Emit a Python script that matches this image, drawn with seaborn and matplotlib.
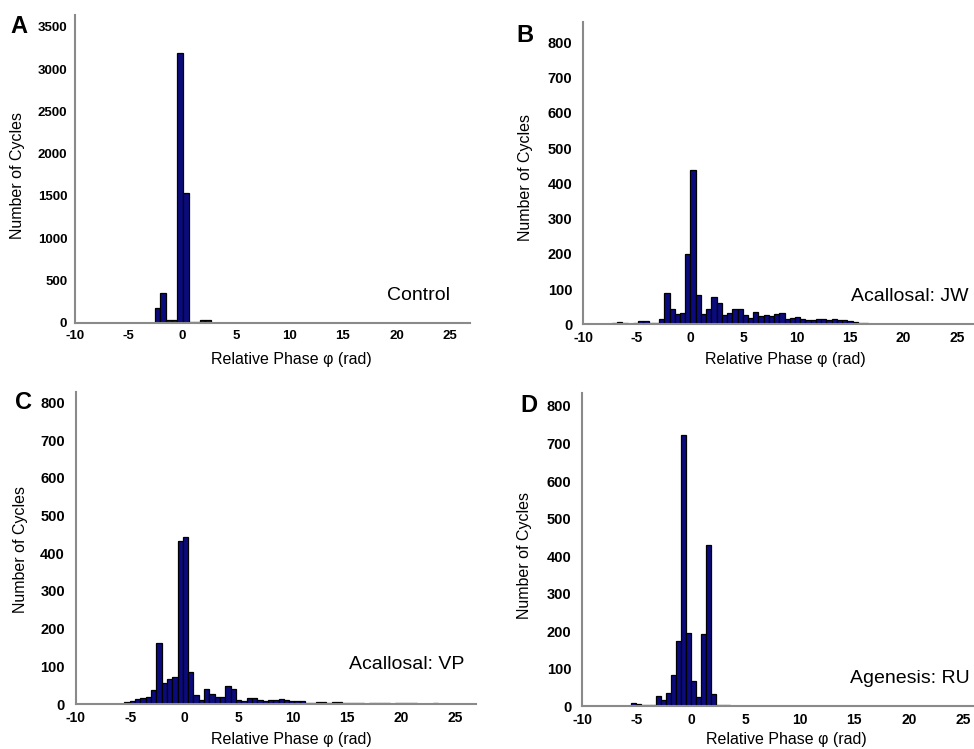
import numpy as np
import pandas as pd
import matplotlib
matplotlib.use('Agg')
import matplotlib.pyplot as plt
import seaborn as sns

# ---------------------------------------------
# Histogram counts
# (first bin edge, bin width, counts per bin)
# ---------------------------------------------
control_start, control_width = -2.55, 0.525
control_counts = [177, 354, 30, 30, 3185, 1534, 10, 10, 30, 30]

jw_start, jw_width = -7.81, 0.49
jw_counts = [2, 5, 6, 3, 0, 3, 8, 9, 5, 4,
             14, 88, 43, 28, 32, 201, 439, 82, 30, 43,
             78, 60, 26, 31, 44, 44, 26, 19, 34, 25,
             27, 24, 29, 32, 16, 17, 21, 15, 12, 11,
             15, 15, 12, 16, 13, 11, 9, 7, 4, 3]

vp_start, vp_width = -5.54, 0.49
vp_counts = [5, 8, 14, 17, 18, 36, 163, 55, 66, 72,
             432, 443, 84, 24, 12, 40, 26, 18, 18, 48,
             41, 12, 7, 17, 16, 10, 9, 10, 11, 13,
             10, 9, 8, 7, 4, 4, 5, 6, 4, 5,
             5, 4, 2, 3, 3, 0, 3, 3, 3, 2,
             0, 3, 3, 2, 3, 0, 0, 0, 3]

ru_start, ru_width = -5.5, 0.455
ru_counts = [9, 5, 4, 3, 4, 28, 18, 35, 83, 174,
             722, 195, 67, 25, 193, 429, 32, 4, 3, 3]

panels = [
    ('A', 'Control', control_start, control_width, control_counts, 3500, 500),
    ('B', 'Acallosal: JW', jw_start, jw_width, jw_counts, 800, 100),
    ('C', 'Acallosal: VP', vp_start, vp_width, vp_counts, 800, 100),
    ('D', 'Agenesis: RU', ru_start, ru_width, ru_counts, 800, 100),
]

# axes placement and label positions (figure / axes fractions)
axes_rects = [
    [0.077, 0.569, 0.406, 0.411],
    [0.599, 0.567, 0.401, 0.403],
    [0.078, 0.060, 0.411, 0.417],
    [0.598, 0.057, 0.402, 0.418],
]
ylims = [3640, 857, 828, 834]
xmaxs = [26.9, 26.6, 26.9, 26.0]
letter_pos = [(0.0195, 0.964), (0.539, 0.953), (0.0246, 0.462), (0.543, 0.458)]
note_pos = [(0.949, 0.088), (0.986, 0.093), (0.971, 0.126), (0.99, 0.089)]
ylab_pos = [(-0.127, 0.477), (-0.130, 0.488), (-0.119, 0.494), (-0.128, 0.482)]
xlab_pos = [(0.547, -0.094), (0.517, -0.093), (0.539, -0.089), (0.52, -0.083)]
ytick_size = [9.5, 10.5, 10.5, 10.5]
ytick_pad = [2.5, 5, 5, 5]
xtick_size = [9.5, 10, 10, 10]

sns.set_style('white')
plt.rcParams['font.family'] = ['Liberation Sans', 'DejaVu Sans']
plt.rcParams['text.color'] = 'black'
plt.rcParams['axes.labelcolor'] = 'black'
plt.rcParams['xtick.labelcolor'] = 'black'
plt.rcParams['ytick.labelcolor'] = 'black'

bar_color = '#0b0b7e'
spine_color = '#8a8a8a'

fig = plt.figure(figsize=(9.74, 7.49), dpi=100)

for i, (letter, note, start, width, counts, ytop, ystep) in enumerate(panels):
    ax = fig.add_axes(axes_rects[i])
    edges = start + width * np.arange(len(counts) + 1)
    df = pd.DataFrame({'phase': (edges[:-1] + edges[1:]) / 2,
                       'count': np.array(counts, dtype=float)})
    sns.histplot(data=df, x='phase', weights='count', bins=list(edges), ax=ax,
                 color=bar_color, edgecolor='black', linewidth=0.9, alpha=1)

    ax.set_xlim(-10, xmaxs[i])
    ax.set_ylim(0, ylims[i])
    ax.set_xticks(np.arange(-10, 26, 5))
    ax.set_yticks(np.arange(0, ytop + 1, ystep))
    ax.set_xticklabels(['-10', '-5', '0', '5', '10', '15', '20', '25'])

    sns.despine(ax=ax)
    for side in ['left', 'bottom']:
        ax.spines[side].set_color(spine_color)
        ax.spines[side].set_linewidth(1.5)

    ax.tick_params(axis='x', direction='in', length=4, width=1, color=spine_color,
                   pad=5, labelsize=xtick_size[i])
    ax.tick_params(axis='y', direction='out', length=3, width=1, color=spine_color,
                   pad=ytick_pad[i], labelsize=ytick_size[i])
    for lab in ax.get_xticklabels() + ax.get_yticklabels():
        lab.set_fontweight('bold')

    ax.set_ylabel('Number of Cycles', fontsize=11.5)
    ax.set_xlabel('Relative Phase \u03c6 (rad)', fontsize=11.5)
    ax.yaxis.set_label_coords(*ylab_pos[i])
    ax.xaxis.set_label_coords(*xlab_pos[i])

    ax.text(note_pos[i][0], note_pos[i][1], note, transform=ax.transAxes,
            ha='right', va='center', fontsize=14)
    fig.text(letter_pos[i][0], letter_pos[i][1], letter, ha='center', va='center',
             fontsize=17, fontweight='bold')

fig.savefig('out.png', dpi=100)
